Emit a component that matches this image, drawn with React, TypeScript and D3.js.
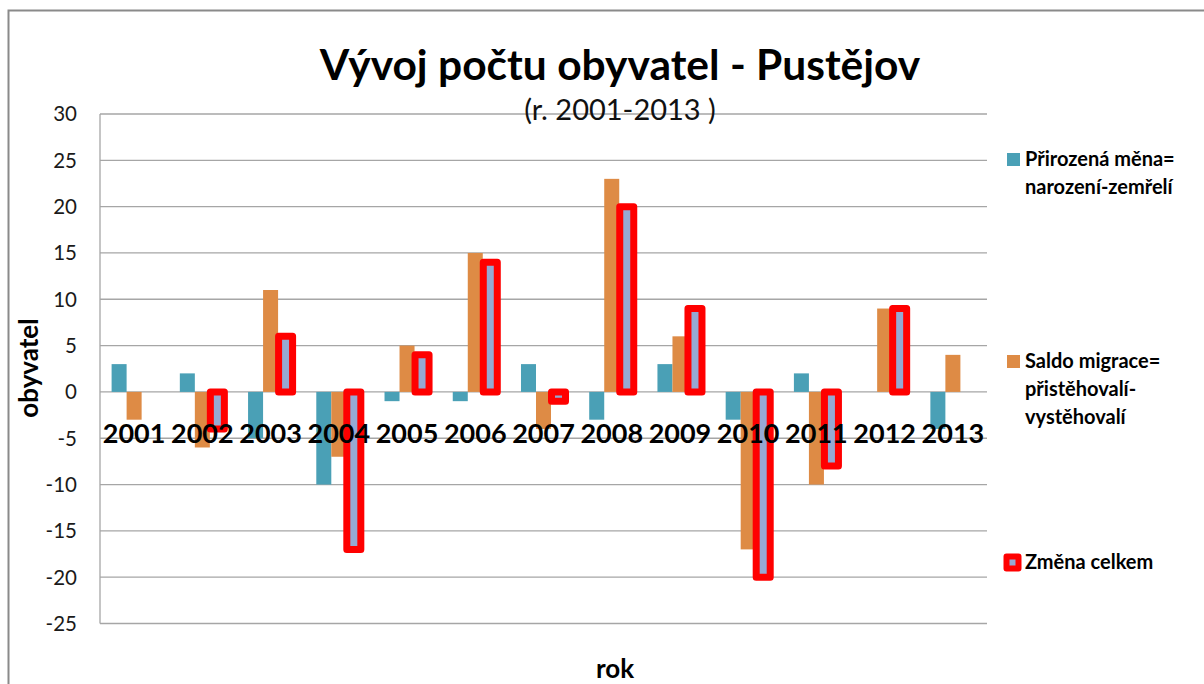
import React from 'react';
import * as d3 from 'd3';

const years = ['2001', '2002', '2003', '2004', '2005', '2006', '2007', '2008', '2009', '2010', '2011', '2012', '2013'];
const prirozenaMena = [3, 2, -5, -10, -1, -1, 3, -3, 3, -3, 2, 0, -4];
const saldoMigrace = [-3, -6, 11, -7, 5, 15, -4, 23, 6, -17, -10, 9, 4];
const zmenaCelkem = [0, -4, 6, -17, 4, 14, -1, 20, 9, -20, -8, 9, 0];
const yTicks = [30, 25, 20, 15, 10, 5, 0, -5, -10, -15, -20, -25];
const seriesKeys = ['prir', 'saldo', 'zmena'];

const FONT = 'Lato, "Open Sans", sans-serif';
const BLUE = '#4aa0b6';
const ORANGE = '#de8b45';
const FILL = '#96a9d3';
const RED = '#ff0000';

const App = () => {
    const width = 1204;
    const height = 684;
    const plotLeft = 100;
    const plotRight = 987;

    const y = d3.scaleLinear().domain([-25, 30]).range([623.5, 114]);
    const x0 = d3.scaleBand().domain(years).range([plotLeft, plotRight]).paddingInner(0.34).paddingOuter(0.17);
    const x1 = d3.scaleBand().domain(seriesKeys).range([0, x0.bandwidth()]);

    const barRect = (v, key, yr) => {
        const top = y(Math.max(0, v));
        const h = Math.abs(y(v) - y(0));
        return { x: x0(yr) + x1(key), y: top, w: x1.bandwidth(), h };
    };

    // legend rows: swatch top, text baselines
    const legend = [
        { color: BLUE, sw: 153, lines: ['Přirozená měna=', 'narození-zemřelí'], base: 166 },
        { color: ORANGE, sw: 355, lines: ['Saldo migrace=', 'přistěhovalí-', 'vystěhovalí'], base: 368 },
    ];

    return (
        <svg width={width} height={height} style={{ position: 'absolute', left: 0, top: 0, background: '#fff' }}>
            <rect x={8.5} y={10.5} width={1300} height={800} fill="#fff" stroke="#8a8a8a" strokeWidth={2} />

            {/* gridlines */}
            {yTicks.map(t => (
                <line key={t} x1={plotLeft} x2={plotRight} y1={y(t)} y2={y(t)} stroke="#a6a6a6" strokeWidth={1.3} />
            ))}
            <line x1={plotLeft} x2={plotLeft} y1={y(30)} y2={y(-25)} stroke="#a6a6a6" strokeWidth={1.3} />

            {/* y tick labels */}
            {yTicks.map(t => (
                <text key={'t' + t} x={77} y={y(t)} dy="0.36em" textAnchor="end" fontFamily={FONT} fontSize={20.5} fill="#1a1a1a">
                    {t}
                </text>
            ))}

            {/* bars */}
            {years.map((yr, i) => {
                const a = barRect(prirozenaMena[i], 'prir', yr);
                const b = barRect(saldoMigrace[i], 'saldo', yr);
                const c = barRect(zmenaCelkem[i], 'zmena', yr);
                return (
                    <g key={yr}>
                        {a.h > 0 && <rect x={a.x} y={a.y} width={a.w} height={a.h} fill={BLUE} />}
                        {b.h > 0 && <rect x={b.x} y={b.y} width={b.w} height={b.h} fill={ORANGE} />}
                        {c.h > 0 && (
                            <rect x={c.x + 0.5} y={c.y} width={c.w - 1} height={c.h} fill={FILL} stroke={RED} strokeWidth={7} strokeLinejoin="round" />
                        )}
                    </g>
                );
            })}

            {/* category labels */}
            {years.map(yr => (
                <text key={'c' + yr} x={x0(yr) + x0.bandwidth() / 2} y={443} textAnchor="middle" fontFamily={FONT} fontWeight="bold" fontSize={27} fill="#000">
                    {yr}
                </text>
            ))}

            {/* titles */}
            <text x={620} y={80} textAnchor="middle" fontFamily={FONT} fontWeight="bold" fontSize={42.5} fill="#000">
                Vývoj počtu obyvatel - Pustějov
            </text>
            <text x={620} y={120} textAnchor="middle" fontFamily={FONT} fontSize={29} fill="#111">
                (r. 2001-2013 )
            </text>
            <text transform={`translate(38,368) rotate(-90)`} textAnchor="middle" fontFamily={FONT} fontWeight="bold" fontSize={26} fill="#000">
                obyvatel
            </text>
            <text x={615} y={678} textAnchor="middle" fontFamily={FONT} fontWeight="bold" fontSize={26} fill="#000">
                rok
            </text>

            {/* legend */}
            {legend.map(l => (
                <g key={l.lines[0]}>
                    <rect x={1007} y={l.sw} width={13} height={13} fill={l.color} />
                    {l.lines.map((ln, k) => (
                        <text key={ln} x={1025} y={l.base + k * 28} fontFamily={FONT} fontWeight="bold" fontSize={20} fill="#000">
                            {ln}
                        </text>
                    ))}
                </g>
            ))}
            <rect x={1006.5} y={556.5} width={12} height={12} fill={FILL} stroke={RED} strokeWidth={6} strokeLinejoin="round" />
            <text x={1025} y={569} fontFamily={FONT} fontWeight="bold" fontSize={20} fill="#000">
                Změna celkem
            </text>
        </svg>
    );
};

export default App;
